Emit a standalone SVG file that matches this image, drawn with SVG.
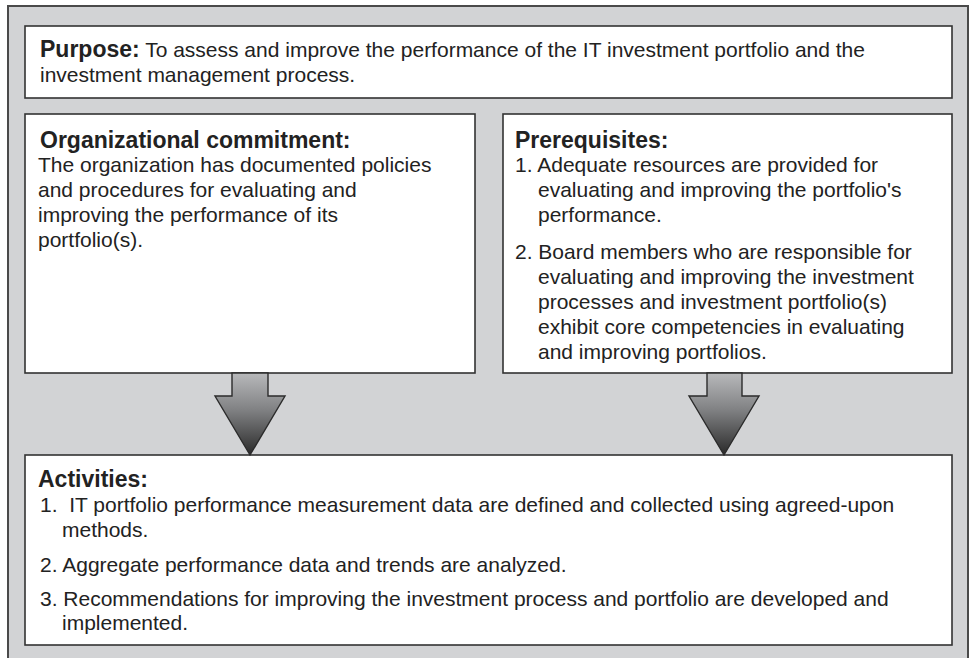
<svg xmlns="http://www.w3.org/2000/svg" width="974" height="658" viewBox="0 0 974 658">
<defs>
<linearGradient id="ag" x1="0" y1="0" x2="0" y2="1">
<stop offset="0" stop-color="#b8b9bb"/>
<stop offset="0.45" stop-color="#808183"/>
<stop offset="1" stop-color="#2a2a2a"/>
</linearGradient>
</defs>
<style>
.frame{fill:#d2d3d5;stroke:#4a4a4a;stroke-width:2}
.box{fill:#ffffff;stroke:#333333;stroke-width:1.6}
.arrow{fill:url(#ag);stroke:#2b2b2b;stroke-width:1.4;stroke-linejoin:miter}
text{font-family:"Liberation Sans",Arial,Helvetica,sans-serif;fill:#222222}
.h{font-weight:bold;font-size:23px}
.t{font-size:21px}
</style>
<rect width="974" height="658" fill="#ffffff"/>
<rect class="frame" x="8" y="6" width="960" height="670"/>

<g id="purpose">
<rect class="box" x="25" y="26" width="927" height="72"/>
<text x="40" y="57"><tspan class="h">Purpose:</tspan><tspan class="t"> To assess and improve the performance of the IT investment portfolio and the</tspan></text>
<text class="t" x="40" y="82">investment management process.</text>
</g>

<g id="organizational-commitment">
<rect class="box" x="25" y="114" width="450" height="259"/>
<text class="h" x="40" y="148">Organizational commitment:</text>
<text class="t" x="38" y="172">The organization has documented policies</text>
<text class="t" x="38" y="197">and procedures for evaluating and</text>
<text class="t" x="38" y="222">improving the performance of its</text>
<text class="t" x="38" y="247">portfolio(s).</text>
</g>

<g id="prerequisites">
<rect class="box" x="503" y="114" width="449" height="259"/>
<text class="h" x="515" y="148">Prerequisites:</text>
<text class="t" x="515" y="172">1. Adequate resources are provided for</text>
<text class="t" x="538" y="197">evaluating and improving the portfolio's</text>
<text class="t" x="538" y="222">performance.</text>
<text class="t" x="515" y="259">2. Board members who are responsible for</text>
<text class="t" x="538" y="284">evaluating and improving the investment</text>
<text class="t" x="538" y="309">processes and investment portfolio(s)</text>
<text class="t" x="538" y="334">exhibit core competencies in evaluating</text>
<text class="t" x="538" y="359">and improving portfolios.</text>
</g>

<g id="activities">
<rect class="box" x="25" y="455" width="927" height="190"/>
<text class="h" x="38" y="487">Activities:</text>
<text class="t" x="40" y="512" xml:space="preserve">1.  IT portfolio performance measurement data are defined and collected using agreed-upon</text>
<text class="t" x="62" y="537">methods.</text>
<text class="t" x="40" y="572">2. Aggregate performance data and trends are analyzed.</text>
<text class="t" x="40" y="606">3. Recommendations for improving the investment process and portfolio are developed and</text>
<text class="t" x="62" y="630">implemented.</text>
</g>

<g id="connectors">
<path class="arrow" d="M232,373 L268,373 L268,396 L285,396 L250,455 L215,396 L232,396 Z"/>
<path class="arrow" d="M707,373 L742,373 L742,396 L759,396 L724,455 L689,396 L707,396 Z"/>
</g>
</svg>
